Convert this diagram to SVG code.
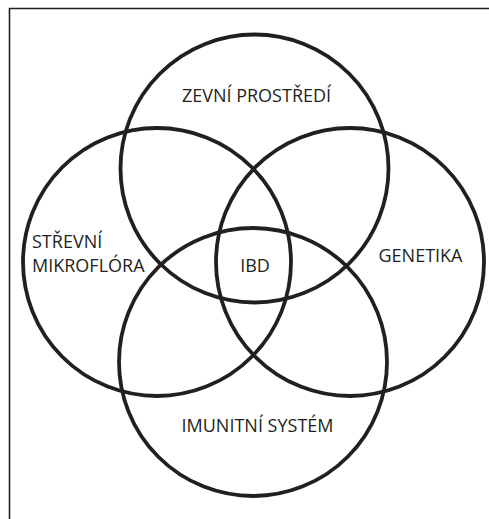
<svg xmlns="http://www.w3.org/2000/svg" width="489" height="519" viewBox="0 0 489 519">
<style>
.c{fill:none;stroke:#231f20;stroke-width:3.8}
.t{font-family:"Open Sans","Liberation Sans",sans-serif;font-size:18px;fill:#231f20}
.f{stroke:#231f20;stroke-width:1.6;fill:none}
</style>
<rect width="489" height="519" fill="#fff"/>
<path class="f" d="M9.5,519 V8.5 H489"/>
<g id="connectors"/>
<g id="zevni"><circle class="c" cx="254.5" cy="168.5" r="134"/><text class="t" x="256.5" y="102" text-anchor="middle">ZEVNÍ PROSTŘEDÍ</text></g>
<g id="strevni"><circle class="c" cx="157" cy="262" r="134"/><text class="t" x="32" y="248">STŘEVNÍ</text><text class="t" x="32" y="272">MIKROFLÓRA</text></g>
<g id="genetika"><circle class="c" cx="350" cy="262" r="134"/><text class="t" x="420.5" y="262" text-anchor="middle">GENETIKA</text></g>
<g id="imunitni"><circle class="c" cx="253" cy="362" r="134"/><text class="t" x="257.5" y="432" text-anchor="middle">IMUNITNÍ SYSTÉM</text></g>
<g id="ibd"><text class="t" x="255" y="272" text-anchor="middle">IBD</text></g>
</svg>
